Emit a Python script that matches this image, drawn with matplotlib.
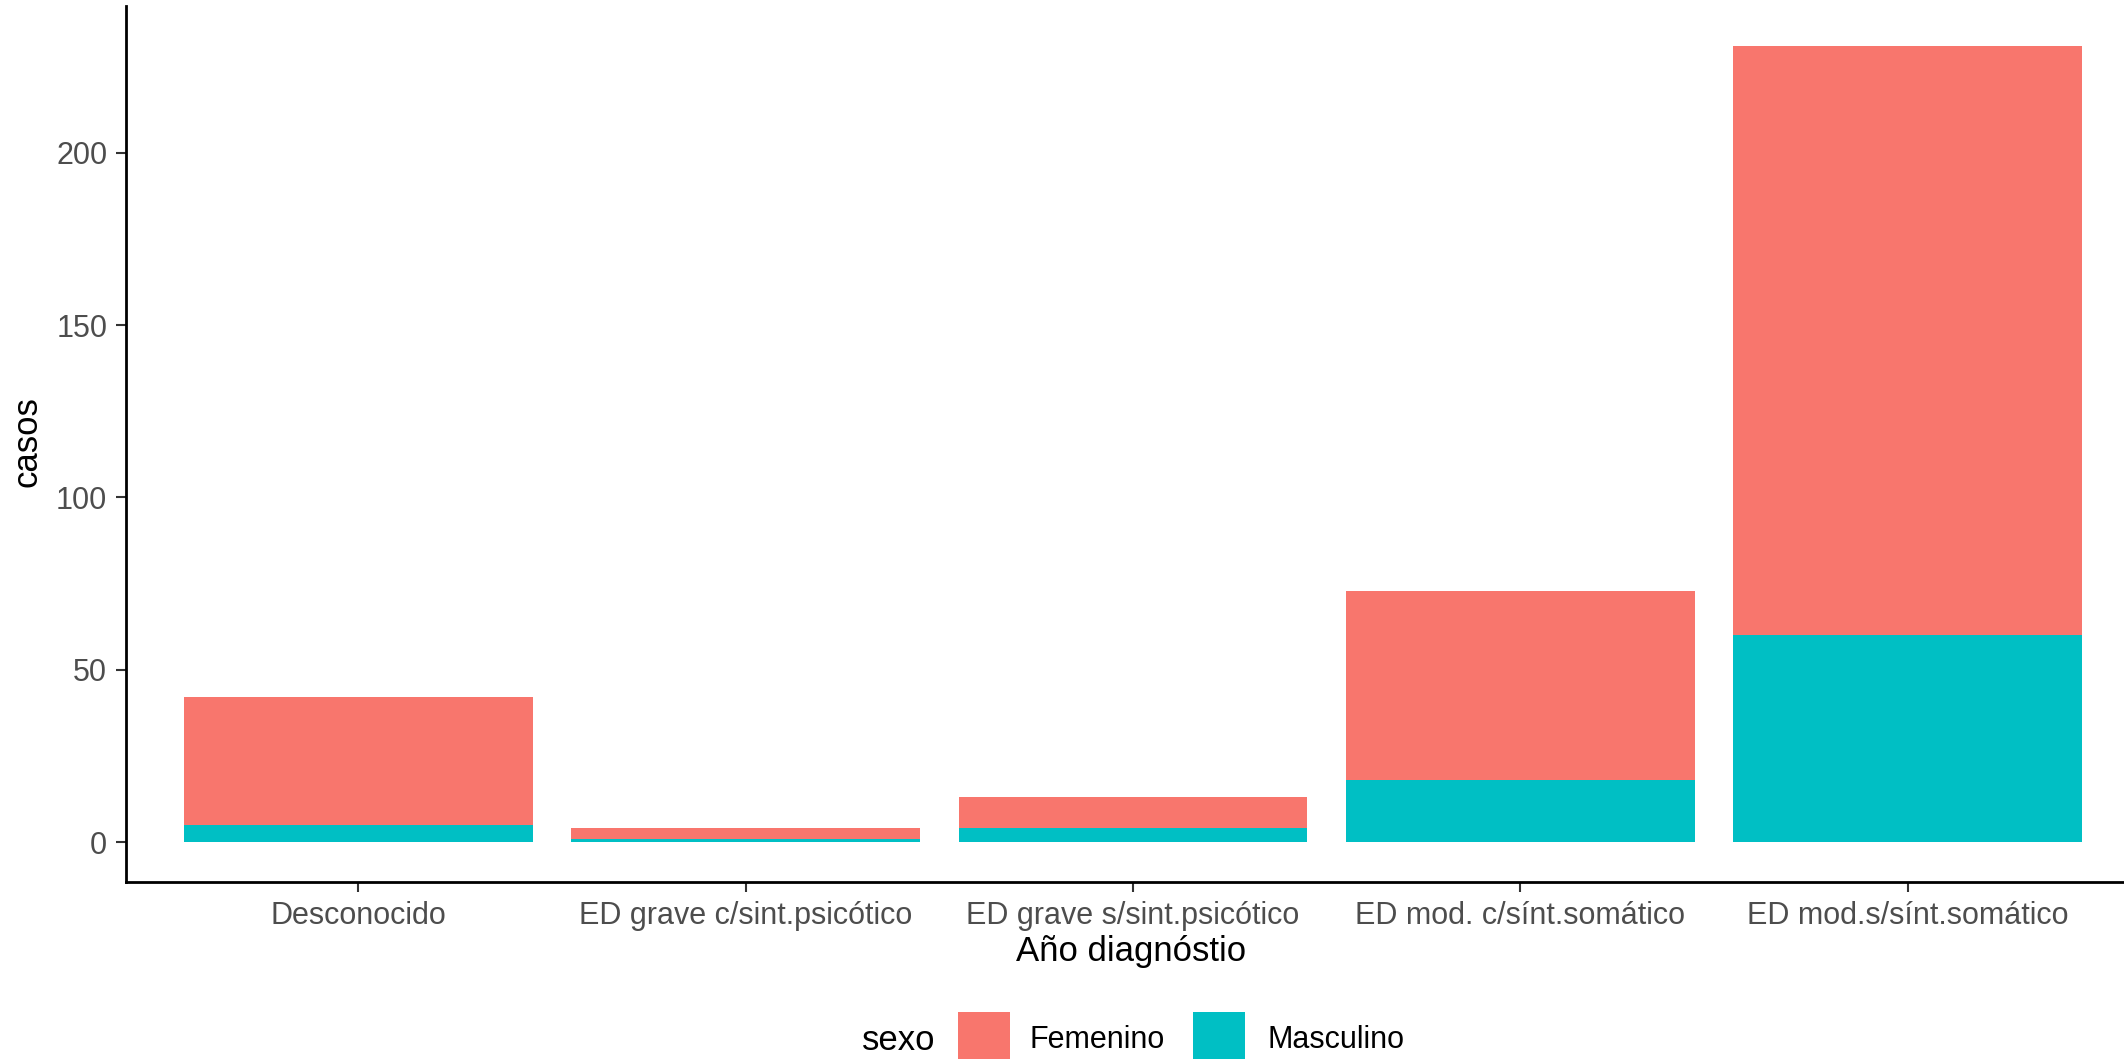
import matplotlib
matplotlib.use("Agg")
import matplotlib.pyplot as plt
from matplotlib.patches import Rectangle
import numpy as np

categories = ["Desconocido", "ED grave c/sint.psicótico", "ED grave s/sint.psicótico",
              "ED mod. c/sínt.somático", "ED mod.s/sínt.somático"]
masculino = [5, 1, 4, 18, 60]
femenino = [37, 3, 9, 55, 171]
yticks = [0, 50, 100, 150, 200]
series_names = ["Femenino", "Masculino"]
colors = {"Femenino": "#F8766D", "Masculino": "#00BFC4"}

plt.rcParams['font.family'] = ['Liberation Sans', 'DejaVu Sans']

W, H = 2124, 1059
AX_L, AX_R, AX_T, AX_B = 126, 2140, 6, 882
fig = plt.figure(figsize=(W / 100, H / 100), dpi=100)
ax = fig.add_axes([AX_L / W, 1 - AX_B / H, (AX_R - AX_L) / W, (AX_B - AX_T) / H])

x = np.arange(1, len(categories) + 1)
masc = np.array(masculino)
fem = np.array(femenino)
ax.bar(x, masc, width=0.9, color=colors["Masculino"], linewidth=0)
ax.bar(x, fem, width=0.9, bottom=masc, color=colors["Femenino"], linewidth=0)

total_max = (masc + fem).max()
ax.set_xlim(0.4, len(categories) + 0.6)
ax.set_ylim(-0.05 * total_max, total_max * 1.05)
ax.set_yticks(yticks)
ax.set_yticklabels([str(v) for v in yticks])
ax.set_xticks(x)
ax.set_xticklabels(categories)

for s in ["top", "right"]:
    ax.spines[s].set_visible(False)
for s in ["left", "bottom"]:
    ax.spines[s].set_linewidth(2.0)
    ax.spines[s].set_color("black")

ax.tick_params(axis="both", length=7.5, width=1.5, color="#333333",
               labelcolor="#4D4D4D", labelsize=22, pad=6)
ax.set_xlabel("Año diagnóstio", fontsize=25, color="black")
ax.set_ylabel("casos", fontsize=25, color="black")
axw, axh = AX_R - AX_L, AX_B - AX_T
ax.xaxis.set_label_coords((1131 - AX_L) / axw, (AX_B - 952) / axh)
ax.xaxis.label.set_va("center")
ax.yaxis.set_label_coords((27 - AX_L) / axw, (AX_B - 442) / axh)
ax.yaxis.label.set_va("center")

# Legend (bottom, horizontal, title on the left)
fig.text(899 / W, 1 - 1040 / H, "sexo", fontsize=25, ha="center", va="center", color="black")
key_w, key_h = 52, 60
for name, kx, tx in [("Femenino", 958, 1029), ("Masculino", 1193, 1267)]:
    fig.patches.append(Rectangle((kx / W, 1 - (1012 + key_h) / H), key_w / W, key_h / H,
                                 transform=fig.transFigure, color=colors[name], linewidth=0))
    fig.text(tx / W, 1 - 1040 / H, name, fontsize=22, ha="left", va="center", color="black")

fig.savefig("out.png", dpi=100)
